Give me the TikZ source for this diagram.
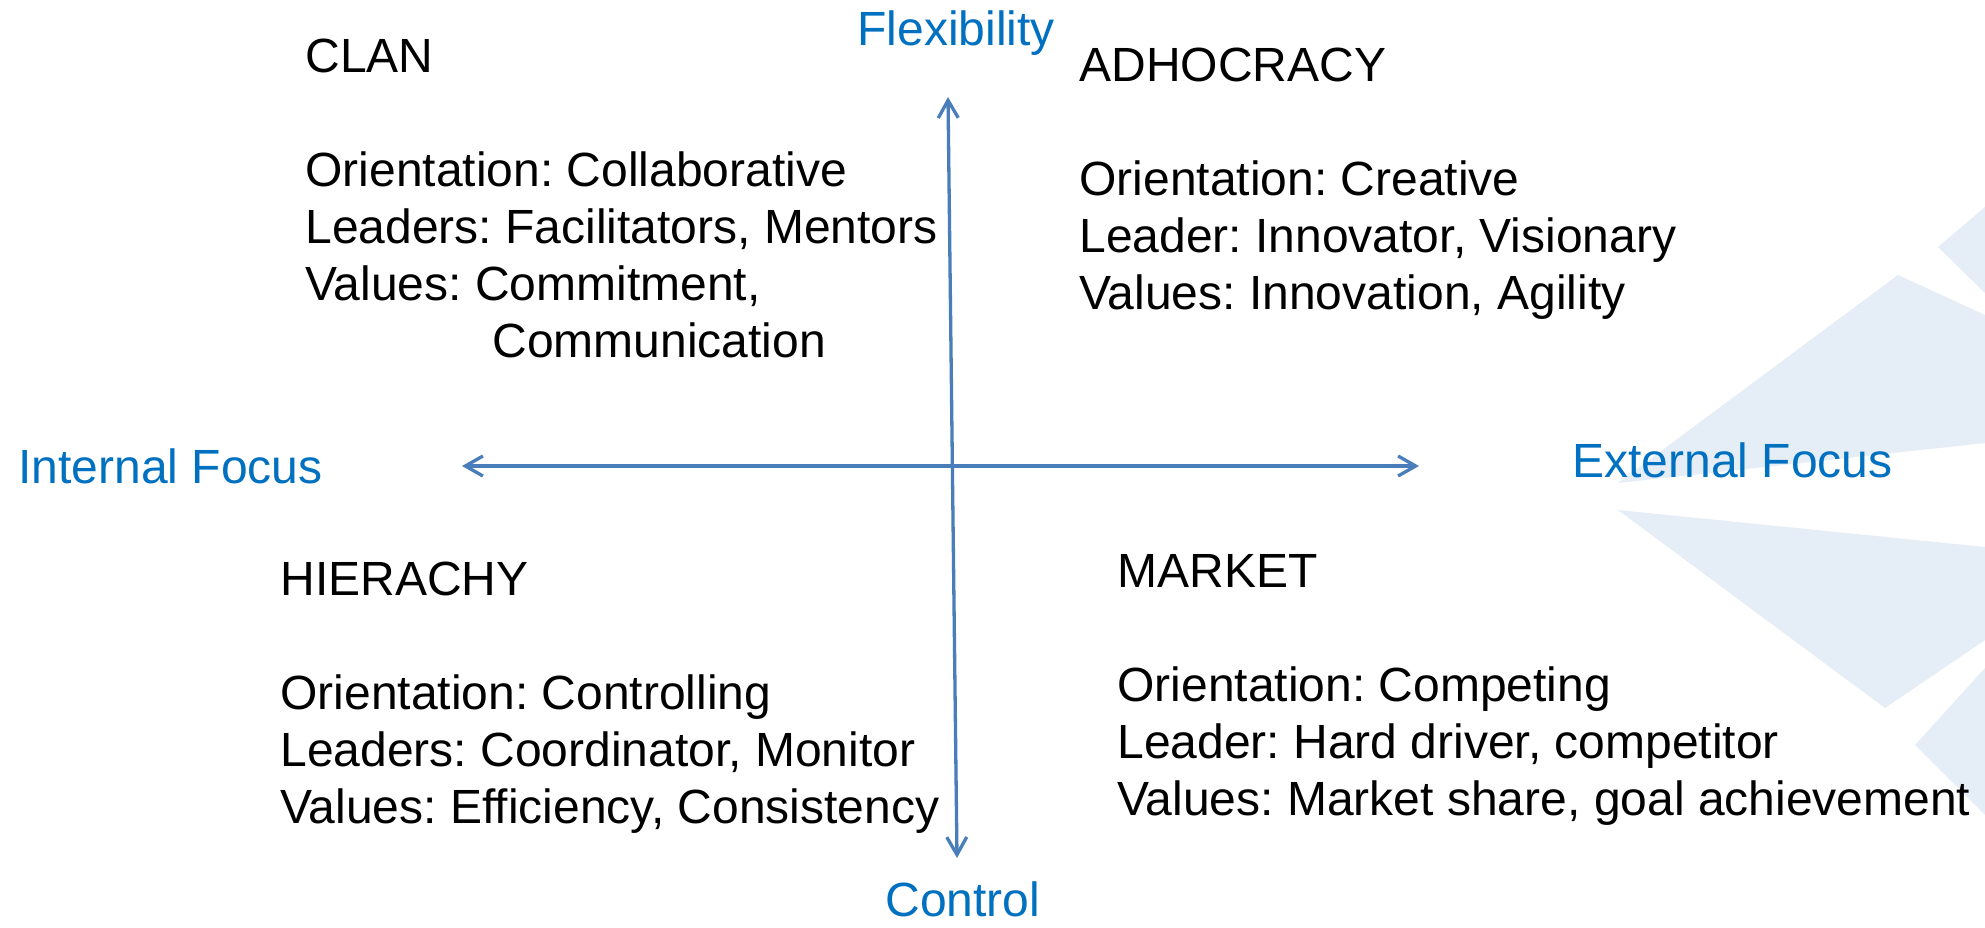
\documentclass[tikz,border=0pt]{standalone}
\usepackage{fontspec}
\setmainfont{Liberation Sans}
\usepackage{tikz}
\usetikzlibrary{arrows.meta}
\definecolor{axisblue}{RGB}{74,126,187}
\definecolor{labelblue}{RGB}{0,112,192}
\definecolor{paleblue}{RGB}{229,237,247}
\frenchspacing

\begin{document}
\begin{tikzpicture}[x=0.5pt,y=-0.5pt,
	axis/.style={draw=axisblue,line width=1.65pt,{Straight Barb[length=8.8pt,width=10pt]}-{Straight Barb[length=8.8pt,width=10pt]}},
	dimlabel/.style={text=labelblue,font=\fontsize{24pt}{28.5pt}\selectfont,inner sep=0pt,anchor=base west},
	quadtext/.style={font=\fontsize{24pt}{28.5pt}\selectfont,inner sep=0pt,anchor=base west},
	shard/.style={fill=paleblue,draw=none}]
		\useasboundingbox[fill=white] (0,0) rectangle (1985,927);
		% pale background shards
		\fill[shard] (1938,247) -- (1985,207) -- (1985,293) -- cycle;
		\fill[shard] (1618,483) -- (1898,275) -- (1985,315) -- (1985,443) -- cycle;
		\fill[shard] (1618,510) -- (1985,547) -- (1985,640) -- (1885,708) -- cycle;
		\fill[shard] (1915,745) -- (1985,668) -- (1985,815) -- cycle;
		% axes
		\coordinate (flex) at (948,97);
		\coordinate (ctrl) at (957,858);
		\coordinate (intl) at (462,466);
		\coordinate (extl) at (1419,466);
		\draw[axis] (ctrl) -- (flex);
		\draw[axis] (intl) -- (extl);
		\node[dimlabel] (flexlbl) at (857,45) {Flexibility};
		\node[dimlabel] (ctrllbl) at (885,916) {Control};
		\node[dimlabel] (intllbl) at (18,483) {Internal Focus};
		\node[dimlabel] (extllbl) at (1572,477) {External Focus};
		% quadrants
		\node[quadtext] (clan) at (305,72) {\begin{tabular}[t]{@{}l@{}}CLAN\\ \\ Orientation: Collaborative\\ Leaders: Facilitators, Mentors\\ Values: Commitment,\\ \hspace*{93.5pt}Communication\end{tabular}};
		\node[quadtext] (adhoc) at (1079,81) {\begin{tabular}[t]{@{}l@{}}ADHOCRACY\\ \\ Orientation: Creative\\ Leader: Innovator, Visionary\\ Values: Innovation, Agility\end{tabular}};
		\node[quadtext] (hier) at (280,595) {\begin{tabular}[t]{@{}l@{}}HIERACHY\\ \\ Orientation: Controlling\\ Leaders: Coordinator, Monitor\\ Values: Efficiency, Consistency\end{tabular}};
		\node[quadtext] (market) at (1117,587) {\begin{tabular}[t]{@{}l@{}}MARKET\\ \\ Orientation: Competing\\ Leader: Hard driver, competitor\\ Values: Market share, goal achievement\end{tabular}};
	\end{tikzpicture}
\end{document}
